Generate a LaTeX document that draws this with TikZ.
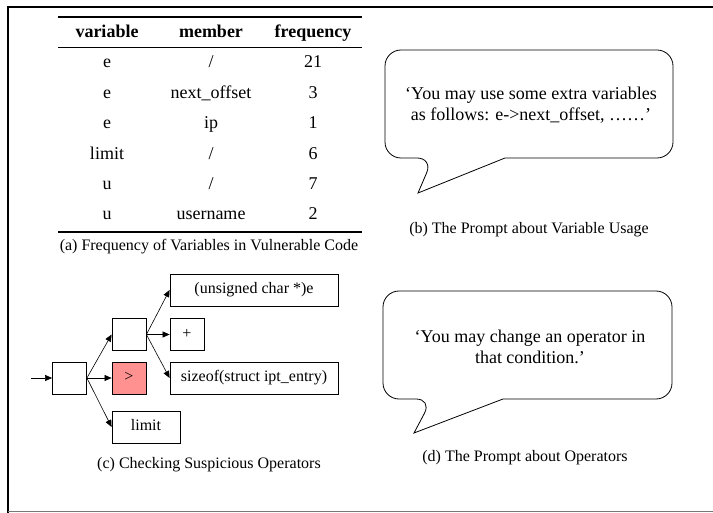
\documentclass[tikz,border=0pt]{standalone}
\usepackage{fontspec}
\setmainfont{Liberation Serif}
\usetikzlibrary{arrows.meta}
\definecolor{opred}{RGB}{255,145,145}
\definecolor{framegray}{RGB}{120,120,120}
\tikzset{
  cell/.style={font=\fontsize{18}{20}\selectfont, text height=12.5pt, text depth=4pt},
  headcell/.style={font=\fontsize{18}{20}\selectfont\bfseries, text height=12.5pt, text depth=4pt},
  caption/.style={font=\fontsize{16}{18}\selectfont, text height=11pt, text depth=3.5pt},
  speech/.style={font=\fontsize{18}{20.5}\selectfont, align=center},
  astbox/.style={draw, thick, minimum height=32pt, minimum width=34pt, inner sep=2pt, text height=11pt, text depth=3.5pt, font=\fontsize{16}{18}\selectfont},
  link/.style={-{Triangle[length=7pt,width=6pt]}, line width=0.6pt},
}
\begin{document}
\begin{tikzpicture}[x=1pt, y=-1pt]
    \useasboundingbox (0,0) rectangle (713,513);
    % outer frame
    \draw[line width=2pt] (8,513) -- (8,7) -- (713,7);
    \draw[line width=1.5pt, framegray] (8,511.5) -- (713,511.5);

    % (a) table
    \draw[line width=1.4pt] (58,17) -- (362,17);
    \draw[line width=0.7pt] (58,47) -- (362,47);
    \draw[line width=1.4pt] (58,232) -- (362,232);
    \node[headcell] (hvar) at (107,33) {variable};
    \node[headcell] (hmem) at (211,33) {member};
    \node[headcell] (hfreq) at (313,33) {frequency};
    \node[cell] (v1) at (107,63.5) {e};
    \node[cell] (m1) at (211,63.5) {/};
    \node[cell] (f1) at (313,63.5) {21};
    \node[cell] (v2) at (107,94) {e};
    \node[cell] (m2) at (211,94) {next\_offset};
    \node[cell] (f2) at (313,94) {3};
    \node[cell] (v3) at (107,124.5) {e};
    \node[cell] (m3) at (211,124.5) {ip};
    \node[cell] (f3) at (313,124.5) {1};
    \node[cell] (v4) at (107,155) {limit};
    \node[cell] (m4) at (211,155) {/};
    \node[cell] (f4) at (313,155) {6};
    \node[cell] (v5) at (107,185.5) {u};
    \node[cell] (m5) at (211,185.5) {/};
    \node[cell] (f5) at (313,185.5) {7};
    \node[cell] (v6) at (107,215.5) {u};
    \node[cell] (m6) at (211,215.5) {username};
    \node[cell] (f6) at (313,215.5) {2};
    \node[caption] (capa) at (209,247) {(a) Frequency of Variables in Vulnerable Code};

    % (b) prompt bubble
    \draw[thick, rounded corners=16pt] (505,158) -- (673,158) -- (673,50) -- (385,50) -- (385,158) -- (433,158) [sharp corners] -- (418,193) -- cycle;
    \node[speech] (promptb) at (531,105) {`You may use some extra variables\\as follows: e->next\_offset, \textellipsis\textellipsis'};
    \node[caption] (capb) at (529,230) {(b) The Prompt about Variable Usage};

    % (c) operator tree
    \coordinate (entry) at (31,378);
    \node[astbox] (root) at (69.5,378) {};
    \node[astbox] (expr) at (129,334.5) {};
    \node[astbox, fill=opred] (op) at (129,378) {>};
    \node[astbox, minimum width=68pt] (lim) at (146,427) {limit};
    \node[astbox, minimum width=168pt] (cast) at (254,290) {(unsigned char *)e};
    \node[astbox] (plus) at (187,334.5) {+};
    \node[astbox, minimum width=168pt] (size) at (254,378) {sizeof(struct ipt\_entry)};
    \draw[link] (entry) -- (root);
    \draw[link] (root.east) -- (expr.west);
    \draw[link] (root.east) -- (op.west);
    \draw[link] (root.east) -- (lim.west);
    \draw[link] (expr.east) -- (cast.west);
    \draw[link] (expr.east) -- (plus.west);
    \draw[link] (expr.east) -- (size.west);
    \node[caption] (capc) at (209,465) {(c) Checking Suspicious Operators};

    % (d) prompt bubble
    \draw[thick, rounded corners=16pt] (503,399) -- (672,399) -- (672,291) -- (383,291) -- (383,399) -- (432,399) [sharp corners] -- (414,433) -- cycle;
    \node[speech] (promptd) at (530,347) {`You may change an operator in\\that condition.'};
    \node[caption] (capd) at (525,458) {(d) The Prompt about Operators};
\end{tikzpicture}
\end{document}
